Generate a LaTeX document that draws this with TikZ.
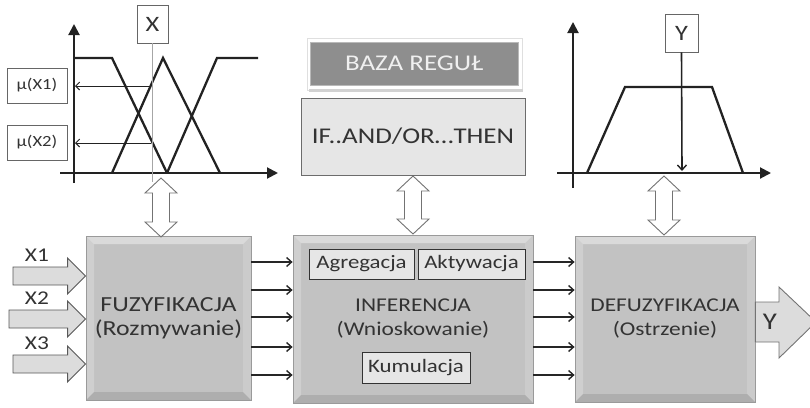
\documentclass[tikz,border=0pt]{standalone}
\usepackage{fontspec}
\setmainfont{Carlito}[FakeStretch=1.2]
\usetikzlibrary{arrows.meta,calc}
\definecolor{boxfill}{HTML}{C2C2C2}
\definecolor{boxline}{HTML}{9A9A9A}
\definecolor{txt}{HTML}{333333}
\definecolor{lightfill}{HTML}{E6E6E6}
\definecolor{graph}{HTML}{222222}
\definecolor{darkbaza}{HTML}{8E8E8E}
\begin{document}
\begin{tikzpicture}[x=1pt,y=-1pt,
  bevel/.style={path picture={
    \fill[white,opacity=.40] (path picture bounding box.north west) -- (path picture bounding box.north east)
      -- ([shift={(-8pt,-8pt)}]path picture bounding box.north east) -- ([shift={(8pt,-8pt)}]path picture bounding box.north west) -- cycle;
    \fill[white,opacity=.22] (path picture bounding box.north west) -- ([shift={(8pt,-8pt)}]path picture bounding box.north west)
      -- ([shift={(8pt,8pt)}]path picture bounding box.south west) -- (path picture bounding box.south west) -- cycle;
    \fill[white,opacity=.15] (path picture bounding box.north east) -- ([shift={(-8pt,-8pt)}]path picture bounding box.north east)
      -- ([shift={(-8pt,8pt)}]path picture bounding box.south east) -- (path picture bounding box.south east) -- cycle;
    \fill[black,opacity=.10] (path picture bounding box.south west) -- ([shift={(8pt,8pt)}]path picture bounding box.south west)
      -- ([shift={(-8pt,8pt)}]path picture bounding box.south east) -- (path picture bounding box.south east) -- cycle;
  }},
  bigbox/.style={bevel, draw=boxline, fill=boxfill, line width=0.8pt, align=center, text=txt,
    font=\fontsize{19.5}{24}\selectfont, inner sep=0pt},
  subbox/.style={draw=txt, fill=lightfill, line width=0.7pt, text=txt, inner sep=0pt,
    font=\fontsize{19}{22}\selectfont},
  lblbox/.style={draw=gray!80!black, fill=white, line width=0.7pt, text=txt, inner sep=0pt},
  conn/.style={line width=1.6pt, black!85, -{Straight Barb[length=5pt,width=9pt,line width=1.4pt]}},
  gline/.style={line width=2.3pt, graph, line join=miter},
  axis/.style={line width=2pt, graph, -{Triangle[length=11pt,width=11pt]}},
  hollow/.style={draw=gray!90!black, fill=white, line width=0.9pt, line join=miter},
  inarrow/.style={draw=black!65, fill=lightfill!90!gray, line width=0.9pt, line join=miter},
  marrow/.style={line width=1pt, graph, -{Straight Barb[length=4pt,width=8pt,line width=1pt]}}
]
\useasboundingbox (0,0) rectangle (810,407);
\clip (0,0) rectangle (810,407);

% ---------- left graph ----------
\draw[axis] (74,183) -- (74,24);
\draw[axis] (60,173) -- (278,173);
\draw[gline] (74,58) -- (112,58) -- (167,173);
\draw[gline] (112,173) -- (163,58) -- (220,173);
\draw[gline] (167,173) -- (217,58) -- (258,58);
\node[lblbox, minimum width=31pt, minimum height=38pt, font=\fontsize{22}{26}\selectfont] (X) at (152.5,24) {X};
\coordinate (xbot) at (152.5,182);
\draw[gray!70, line width=0.8pt] (X.south) -- (xbot);
\node[lblbox, minimum width=60pt, minimum height=35pt, font=\fontsize{15.5}{18}\selectfont] (mu1) at (37,85.5) {μ(X1)};
\node[lblbox, minimum width=60pt, minimum height=35pt, font=\fontsize{15.5}{18}\selectfont] (mu2) at (37,142.5) {μ(X2)};
\coordinate (m1) at (151,86);
\coordinate (m2) at (151,143);
\draw[marrow] (m1) -- (75,86);
\draw[marrow] (m2) -- (75,143);

% ---------- rule base ----------
\node[fill=white, draw=gray!25, minimum width=215pt, minimum height=52pt, inner sep=0pt] (bazaouter) at (414.5,64) {};
\fill[gray!35] (309,89) rectangle (523,92);
\node[fill=darkbaza, draw=gray!55, line width=0.8pt, minimum width=208pt, minimum height=43pt,
      text=gray!12, font=\fontsize{22.5}{26}\selectfont, inner sep=0pt] (baza) at (414,63.5) {BAZA REGUŁ};
\node[draw=gray!85!black, fill=lightfill, line width=0.8pt, minimum width=224pt, minimum height=77pt,
      text=txt, font=\fontsize{22.5}{26}\selectfont, inner sep=0pt] (rules) at (413,136.5) {IF..AND/OR…THEN};

% ---------- right graph ----------
\draw[axis] (573,188) -- (573,22);
\draw[axis] (557,173) -- (771,173);
\draw[gline] (587,173) -- (625,87) -- (712,87) -- (743,173);
\node[lblbox, minimum width=33pt, minimum height=38pt, font=\fontsize{22}{26}\selectfont] (Y) at (681.5,33) {Y};
\coordinate (ybot) at (682,171);
\draw[line width=1.6pt, graph, -{Straight Barb[length=5pt,width=9pt,line width=1.4pt]}] (Y.south) -- (ybot);

% ---------- main blocks ----------
\node[bigbox, minimum width=165pt, minimum height=164pt, font=\fontsize{21.5}{24}\selectfont] (fuz) at (168.5,318) {FUZYFIKACJA\\(Rozmywanie)};
\node[bigbox, minimum width=240pt, minimum height=168pt] (inf) at (413,319) {INFERENCJA\\(Wnioskowanie)};
\node[bigbox, minimum width=180pt, minimum height=166pt] (def) at (665,319) {DEFUZYFIKACJA\\(Ostrzenie)};
\node[subbox, minimum width=105pt, minimum height=30pt] (agr) at (361.5,264) {Agregacja};
\node[subbox, minimum width=107pt, minimum height=30pt] (akt) at (471.5,264) {Aktywacja};
\node[subbox, minimum width=108pt, minimum height=31pt] (kum) at (416,367.5) {Kumulacja};

% ---------- connectors ----------
\foreach \yy in {262,290,317,347,375}{
  \draw[conn] (fuz.east |- 0,\yy) -- (inf.west |- 0,\yy);
  \draw[conn] (inf.east |- 0,\yy) -- (def.west |- 0,\yy);
}

% ---------- double arrows ----------
\foreach \name/\cx/\ty/\by in {d1/161/178/237, d2/413/176/234, d3/664/176/235}{
  \coordinate (\name top) at (\cx,\ty);
  \coordinate (\name bot) at (\cx,\by);
  \draw[hollow] (\name top) -- ++(16,15) -- ++(-7.5,0) |- ($(\name bot)+(8.5,-15)$) -- ++(7.5,0)
    -- (\name bot) -- ++(-16,-15) -- ++(7.5,0) |- ($(\name top)+(-8.5,15)$) -- ++(-7.5,0) -- cycle;
}

% ---------- input arrows ----------
\foreach \name/\sx/\cy/\lab in {x1/13/276/X1, x2/9/319/X2, x3/13/364/X3}{
  \coordinate (\name s) at (\sx,\cy);
  \coordinate (\name t) at (fuz.west |- 0,\cy);
  \draw[inarrow] ($(\name s)+(0,-9)$) -- ($(\name t)+(-18,-9)$) -- ++(0,-9) -- (\name t) -- ++(-18,18) -- ++(0,-9)
     -- ($(\name s)+(0,9)$) -- cycle;
  \node[text=txt, font=\fontsize{19.5}{22}\selectfont, inner sep=0pt] (\name lab) at (37,\cy-21) {\lab};
}

% ---------- output arrow ----------
\coordinate (outs) at (def.east |- 0,322);
\coordinate (outt) at (816,322);
\draw[draw=gray!90!black, fill=lightfill!90!gray, line width=0.9pt, line join=miter]
  ($(outs)+(0,-20)$) -- (779,302) -- (779,287) -- (outt) -- (779,358) -- (779,342) -- ($(outs)+(0,20)$) -- cycle;
\node[text=txt, font=\fontsize{24}{28}\selectfont, inner sep=0pt] (ylab) at (770,322) {Y};
\end{tikzpicture}
\end{document}
